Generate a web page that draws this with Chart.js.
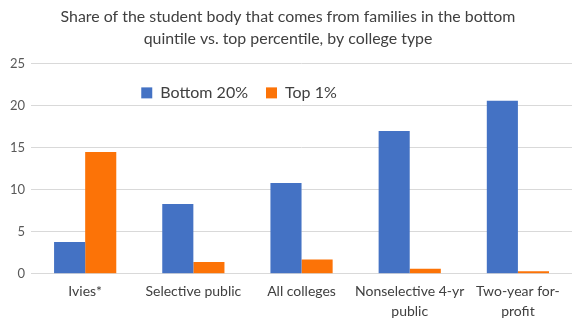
<!DOCTYPE html>
<html>
<head>
<meta charset="utf-8">
<script src="https://cdn.jsdelivr.net/npm/chart.js@4/dist/chart.umd.min.js"></script>
<style>
  html, body { margin: 0; padding: 0; background: #fff; }
  #wrap { width: 580px; height: 333px; }
</style>
</head>
<body>
<div id="wrap"><canvas id="barChart"></canvas></div>
<script>
var categories = [['Ivies*'], ['Selective public'], ['All colleges'], ['Nonselective 4-yr', 'public'], ['Two-year for-', 'profit']];
var bottom20 = [3.8, 8.3, 10.8, 17.0, 20.6];
var top1 = [14.5, 1.4, 1.7, 0.6, 0.3];
var yTicks = [0, 5, 10, 15, 20, 25];

// legend sits inside the plot in the original, so it takes no layout space
// and is moved to the top of the chart area when drawn
var legendInside = {
    id: 'legendInside',
    beforeLayout: function (chart) {
        var lg = chart.legend;
        if (lg && !lg._wrapped) {
            var fit = lg.fit;
            lg.fit = function () {
                fit.call(this);
                this._realH = this.height;
                this.height = 0;
            };
            lg._wrapped = true;
        }
    },
    beforeDraw: function (chart) {
        var lg = chart.legend;
        var area = chart.chartArea;
        var w = lg.right - lg.left;
        lg.left = lg.left - 49;
        lg.right = lg.left + w;
        lg.top = area.top + 3;
        lg.bottom = lg.top + lg._realH;
    }
};

var ctx = document.getElementById('barChart').getContext('2d');

var myChart = new Chart(ctx, {
    type: 'bar',
    data: {
        labels: categories,
        datasets: [{
            label: 'Bottom 20%',
            data: bottom20,
            backgroundColor: '#4472C4'
        }, {
            label: 'Top 1%',
            data: top1,
            backgroundColor: '#FC7307'
        }]
    },
    options: {
        responsive: true,
        maintainAspectRatio: false,
        animation: false,
        layout: { padding: { left: 4, right: 8, top: 6, bottom: 12 } },
        plugins: {
            title: {
                display: true,
                text: ['Share of the student body that comes from families in the bottom', 'quintile vs. top percentile, by college type'],
                color: '#404040',
                font: { family: 'Lato', size: 15.9, weight: 'normal', lineHeight: 1.38 },
                padding: { top: 0, bottom: 14 }
            },
            legend: {
                position: 'top',
                align: 'center',
                labels: {
                    color: '#404040',
                    font: { family: 'Lato', size: 16 },
                    boxWidth: 11,
                    boxHeight: 11,
                    padding: 18
                }
            },
            tooltip: { enabled: false }
        },
        datasets: {
            bar: { categoryPercentage: 0.575, barPercentage: 1 }
        },
        scales: {
            x: {
                grid: { display: false },
                border: { display: false },
                ticks: {
                    color: '#404040',
                    font: { family: 'Lato', size: 14, lineHeight: 1.4 },
                    maxRotation: 0,
                    autoSkip: false,
                    padding: 0
                }
            },
            y: {
                min: 0,
                max: 25,
                afterBuildTicks: function (axis) {
                    axis.ticks = yTicks.map(function (v) { return { value: v }; });
                },
                grid: { color: '#D9D9D9', drawTicks: false, lineWidth: 1 },
                border: { display: false },
                ticks: {
                    color: '#595959',
                    font: { family: 'Lato', size: 13 },
                    padding: 6
                }
            }
        }
    },
    plugins: [legendInside]
});
</script>
</body>
</html>
